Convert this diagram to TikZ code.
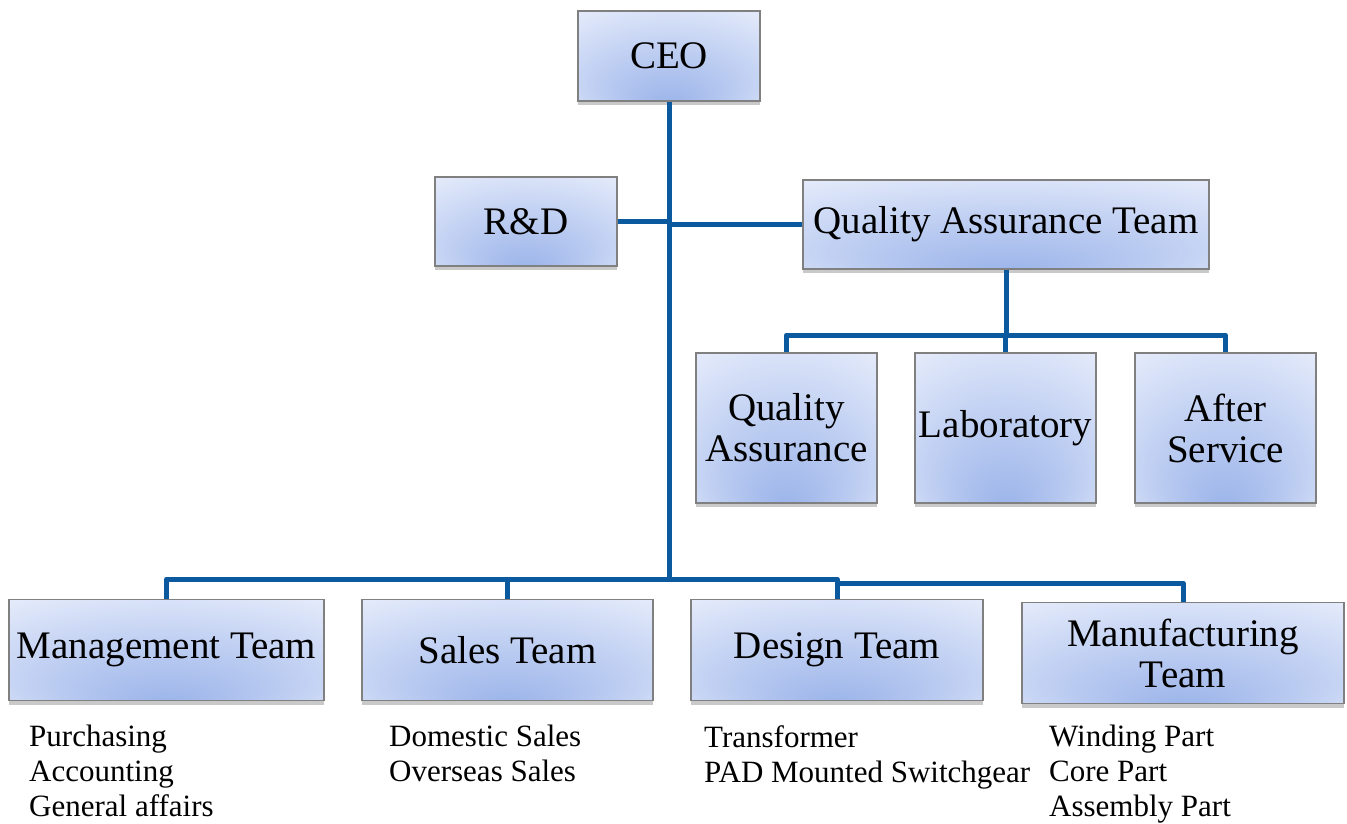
\documentclass[tikz,border=0pt]{standalone}
\usepackage{fontspec}
\setmainfont{Liberation Serif}
\usetikzlibrary{shadows}
\definecolor{linec}{HTML}{0B5AA0}
\definecolor{bdark}{HTML}{9AB3E9}
\definecolor{bmid}{HTML}{C2D1F3}
\definecolor{blight}{HTML}{EDF1FC}
\pgfdeclareradialshading{boxshade}{\pgfpoint{0bp}{-28bp}}{color(0bp)=(bdark); color(22bp)=(bmid); color(44bp)=(blight); color(50bp)=(blight)}
\begin{document}
\begin{tikzpicture}[x=1pt,y=-1pt,
  box/.style={draw=black!50, line width=1.2pt, shading=boxshade,
    drop shadow={shadow xshift=0pt,shadow yshift=-4pt,opacity=0.3,fill=black!70},
    inner sep=0pt, align=center, font=\fontsize{39}{41}\selectfont},
  conn/.style={draw=linec, line width=5pt, line join=round},
  sub/.style={anchor=north west, align=left, inner sep=0pt, font=\fontsize{31}{35}\selectfont}]
\useasboundingbox (0,0) rectangle (1347,823);
% boxes
\node[box, minimum width=182pt, minimum height=90pt] (ceo) at (669,56) {CEO};
\node[box, minimum width=182pt, minimum height=89pt] (rd) at (526,221.5) {R\&D};
\node[box, minimum width=406pt, minimum height=89pt] (qat) at (1006,224.5) {Quality Assurance Team};
\node[box, minimum width=181pt, minimum height=150pt] (qa) at (786.5,428) {Quality\\Assurance};
\node[box, minimum width=181pt, minimum height=150pt] (lab) at (1005.5,428) {Laboratory};
\node[box, minimum width=181pt, minimum height=150pt] (as) at (1225.5,428) {After\\Service};
\node[box, minimum width=315pt, minimum height=101pt] (mt) at (166.5,650) {Management Team};
\node[box, minimum width=291pt, minimum height=101pt] (st) at (507.5,650) {Sales Team};
\node[box, minimum width=292pt, minimum height=101pt] (dt) at (837,650) {Design Team};
\node[box, minimum width=322pt, minimum height=101pt] (mft) at (1183,653) {Manufacturing\\Team};
% connector points
\coordinate (hub) at (669,579);
\coordinate (qbus) at (1006,335);
\coordinate (mbus) at (838,583);
% connectors
\draw[conn] (ceo.south) -- (hub);
\draw[conn] (rd.east) -- (rd.east -| ceo.south);
\draw[conn] (ceo.south |- qat.west) -- (qat.west);
\draw[conn] (qat.south) -- (qbus);
\draw[conn] (qa.north) |- (qbus) -| (as.north);
\draw[conn] (lab.north) -- (lab.north |- qbus);
\draw[conn] (mt.north) |- (hub) -| (dt.north);
\draw[conn] (st.north) -- (st.north |- hub);
\draw[conn] (mbus) -| (mft.north);
% sub texts
\node[sub] (mtl) at (29,725) {Purchasing\\Accounting\\General affairs};
\node[sub] (stl) at (389,725) {Domestic Sales\\Overseas Sales};
\node[sub] (dtl) at (704,725) {Transformer\\PAD Mounted Switchgear};
\node[sub] (mftl) at (1049,725) {Winding Part\\Core Part\\Assembly Part};
\end{tikzpicture}
\end{document}
